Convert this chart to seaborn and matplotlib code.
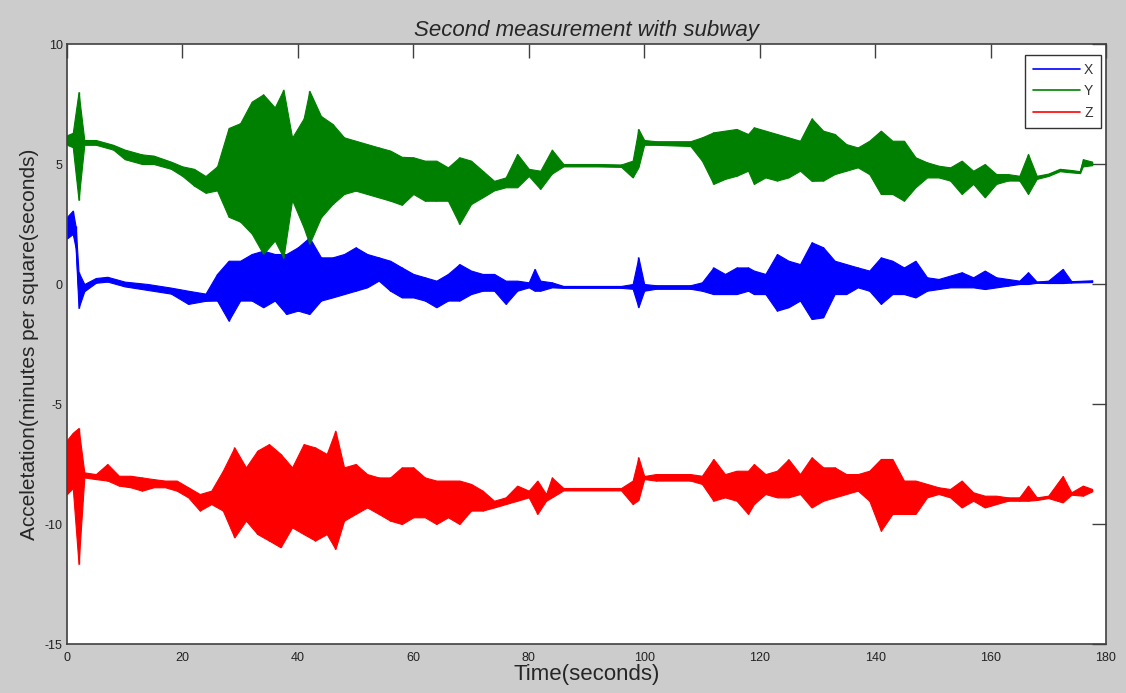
import numpy as np
import pandas as pd
import seaborn as sns
import matplotlib.pyplot as plt

# envelope of each accelerometer channel (upper / lower per time)

t_x = [0, 1, 1.5, 2, 3, 5, 7, 10, 14, 18, 21, 24, 26, 28, 30, 32, 34, 36, 38, 40,
       42, 44, 46, 48, 50, 52, 54, 56, 58, 60, 62, 64, 66, 68, 70, 72, 74, 76, 78, 80,
       81, 82, 84, 86, 96, 98, 99, 100, 102, 108, 110, 112, 114, 116, 118, 119, 121, 123, 125, 127,
       129, 131, 133, 135, 137, 139, 141, 143, 145, 147, 149, 151, 153, 155, 157, 159, 161, 163, 165, 166.5,
       168, 170, 172.5, 174, 177.6]
x_hi = [2.8, 3.06, 2.4, 0.5, 0.0, 0.25, 0.3, 0.1, 0.0, -0.15, -0.28, -0.4, 0.42, 0.97, 0.97, 1.25, 1.39, 1.25, 1.25, 1.53,
        1.94, 1.11, 1.11, 1.25, 1.53, 1.25, 1.11, 0.97, 0.69, 0.42, 0.28, 0.14, 0.42, 0.83, 0.56, 0.42, 0.42, 0.14, 0.14, 0.07,
        0.63, 0.14, 0.07, -0.08, -0.08, 0.0, 1.11, 0.0, -0.05, -0.05, 0.07, 0.69, 0.42, 0.69, 0.69, 0.56, 0.42, 1.25, 0.97, 0.83,
        1.74, 1.53, 0.97, 0.83, 0.69, 0.56, 1.11, 0.97, 0.69, 0.97, 0.28, 0.21, 0.35, 0.49, 0.28, 0.56, 0.28, 0.21, 0.14, 0.49,
        0.1, 0.14, 0.63, 0.12, 0.15]
x_lo = [1.9, 2.08, 1.5, -1.0, -0.3, 0.05, 0.1, -0.1, -0.25, -0.4, -0.83, -0.7, -0.69, -1.53, -0.69, -0.69, -0.97, -0.69, -1.25, -1.11,
        -1.25, -0.69, -0.56, -0.42, -0.28, -0.14, 0.14, -0.28, -0.56, -0.56, -0.69, -0.97, -0.69, -0.69, -0.42, -0.28, -0.28, -0.83, -0.28, -0.14,
        -0.28, -0.28, -0.14, -0.16, -0.16, -0.2, -0.97, -0.28, -0.2, -0.2, -0.28, -0.42, -0.42, -0.42, -0.28, -0.42, -0.42, -1.11, -0.97, -0.69,
        -1.46, -1.39, -0.42, -0.42, -0.14, -0.28, -0.83, -0.42, -0.42, -0.56, -0.28, -0.21, -0.14, -0.14, -0.14, -0.21, -0.14, -0.07, 0.0, 0.0,
        0.05, 0.04, 0.04, 0.06, 0.08]

t_y = [0, 1, 2, 3, 5, 8, 10, 13, 15, 18, 20, 22, 24, 26, 28, 30, 32, 34, 36, 37.5,
       39, 41, 42, 44, 46, 48, 50, 52, 54, 56, 58, 60, 62, 64, 66, 68, 70, 72, 74, 76,
       78, 80, 82, 84, 86, 92, 96, 98, 99, 100, 102, 108, 110, 112, 114, 116, 118, 119, 121, 123,
       125, 127, 129, 131, 133, 135, 137, 139, 141, 143, 145, 147, 149, 151, 153, 155, 157, 159, 161, 163,
       165, 166.5, 168, 170, 172, 174, 175.5, 176, 177.6]
y_hi = [6.2, 6.3, 8.0, 6.0, 6.0, 5.8, 5.6, 5.4, 5.35, 5.1, 4.9, 4.8, 4.5, 4.9, 6.5, 6.7, 7.6, 7.9, 7.36, 8.1,
        6.1, 6.9, 8.05, 7.0, 6.67, 6.11, 5.97, 5.83, 5.69, 5.56, 5.3, 5.28, 5.14, 5.14, 4.86, 5.28, 5.14, 4.72, 4.3, 4.44,
        5.42, 4.8, 4.72, 5.6, 5.0, 5.0, 4.98, 5.14, 6.46, 6.0, 5.95, 5.95, 6.11, 6.32, 6.39, 6.46, 6.25, 6.53, 6.39, 6.25,
        6.11, 5.97, 6.9, 6.39, 6.25, 5.83, 5.69, 5.97, 6.39, 5.97, 5.97, 5.28, 5.07, 4.93, 4.86, 5.14, 4.72, 5.0, 4.58, 4.58,
        4.51, 5.42, 4.51, 4.6, 4.8, 4.75, 4.7, 5.2, 5.1]
y_lo = [5.8, 5.7, 3.5, 5.8, 5.8, 5.6, 5.2, 5.0, 5.0, 4.8, 4.5, 4.1, 3.8, 3.9, 2.8, 2.6, 2.1, 1.25, 1.81, 1.1,
        3.5, 2.36, 1.67, 2.78, 3.33, 3.75, 3.89, 3.75, 3.61, 3.47, 3.3, 3.75, 3.47, 3.47, 3.47, 2.5, 3.33, 3.61, 3.9, 4.03,
        4.03, 4.5, 3.96, 4.6, 4.9, 4.9, 4.88, 4.44, 4.86, 5.8, 5.8, 5.75, 5.14, 4.17, 4.38, 4.51, 4.72, 4.17, 4.44, 4.31,
        4.44, 4.72, 4.3, 4.31, 4.58, 4.72, 4.86, 4.58, 3.75, 3.75, 3.47, 4.03, 4.44, 4.44, 4.31, 3.75, 4.17, 3.61, 4.17, 4.31,
        4.31, 3.75, 4.38, 4.5, 4.7, 4.65, 4.62, 4.9, 4.95]

t_z = [0, 1, 2, 3, 5, 7, 9, 11, 13, 15, 17, 19, 21, 23, 25, 27, 29, 31, 33, 35,
       37, 39, 41, 43, 45, 46.5, 48, 50, 52, 54, 56, 58, 60, 62, 64, 66, 68, 70, 72, 74,
       76, 78, 80, 81.5, 83, 84, 86, 96, 98, 99, 100, 102, 108, 110, 112, 114, 116, 118, 119, 121,
       123, 125, 127, 129, 131, 133, 135, 137, 139, 141, 143, 145, 147, 149, 151, 153, 155, 157, 159, 161,
       163, 165, 166.5, 168, 170, 172.5, 174, 176, 177.6]
z_hi = [-6.5, -6.2, -6.0, -7.85, -7.92, -7.5, -7.99, -7.99, -8.06, -8.13, -8.19, -8.19, -8.47, -8.75, -8.61, -7.78, -6.81, -7.64, -6.94, -6.67,
        -7.08, -7.64, -6.67, -6.81, -7.08, -6.11, -7.64, -7.5, -7.92, -8.06, -8.06, -7.64, -7.64, -8.06, -8.19, -8.19, -8.19, -8.33, -8.61, -9.03,
        -8.89, -8.4, -8.61, -8.19, -8.75, -8.06, -8.5, -8.5, -8.19, -7.22, -8.0, -7.92, -7.92, -7.99, -7.29, -7.92, -7.78, -7.78, -7.5, -7.92,
        -7.78, -7.3, -7.92, -7.22, -7.64, -7.64, -7.92, -7.92, -7.78, -7.29, -7.29, -8.19, -8.19, -8.33, -8.47, -8.54, -8.19, -8.68, -8.82, -8.82,
        -8.89, -8.89, -8.4, -8.89, -8.82, -8.0, -8.68, -8.4, -8.54]
z_lo = [-8.75, -8.5, -11.67, -8.06, -8.13, -8.19, -8.4, -8.47, -8.61, -8.47, -8.47, -8.61, -8.89, -9.44, -9.17, -9.44, -10.56, -9.86, -10.42, -10.69,
        -10.97, -10.14, -10.42, -10.69, -10.42, -11.04, -9.86, -9.58, -9.31, -9.58, -9.86, -10.0, -9.72, -9.72, -10.0, -9.72, -10.0, -9.44, -9.44, -9.31,
        -9.17, -9.03, -8.89, -9.58, -9.03, -8.89, -8.6, -8.6, -9.17, -9.0, -8.13, -8.19, -8.19, -8.33, -9.03, -8.89, -9.03, -9.58, -9.17, -8.75,
        -8.89, -8.89, -8.75, -9.31, -9.03, -8.89, -8.75, -8.61, -9.03, -10.28, -9.58, -9.58, -9.58, -8.89, -8.75, -8.89, -9.31, -9.03, -9.31, -9.17,
        -9.03, -9.03, -9.03, -9.0, -8.92, -9.1, -8.78, -8.82, -8.64]

channels = [
    ("X", t_x, x_hi, x_lo, "#0000ff"),
    ("Y", t_y, y_hi, y_lo, "#008000"),
    ("Z", t_z, z_hi, z_lo, "#ff0000"),
]

sns.set_theme(style="white")
plt.rcParams['font.family'] = ['Liberation Sans', 'DejaVu Sans']
plt.rcParams['axes.unicode_minus'] = False

fig = plt.figure(figsize=(11.26, 6.93), dpi=100)
fig.patch.set_facecolor("#cccccc")
ax = fig.add_axes([0.0595, 0.0707, 0.9227, 0.8658])
ax.set_facecolor("white")

for name, t, hi, lo, col in channels:
    t = np.array(t)
    hi = np.array(hi)
    lo = np.array(lo)
    df = pd.DataFrame({"t": t, "v": (hi + lo) / 2})
    sns.lineplot(data=df, x="t", y="v", ax=ax, color=col, lw=0.8, label=name)
    ax.fill_between(t, lo, hi, color=col, lw=0.8, edgecolor=col)
    # vertical strokes at each sample, like the dense raw trace
    ax.vlines(t, lo, hi, color=col, lw=1.0)

ax.set_xlim(0, 180)
ax.set_ylim(-15, 10)
ax.set_xticks(range(0, 181, 20))
ax.set_yticks(range(-15, 11, 5))
ax.tick_params(direction="in", length=10, width=1, color="#404040",
               top=True, right=True, labelsize=9, labelcolor="#222222", pad=3)
ax.tick_params(axis="x", pad=6)
for s in ax.spines.values():
    s.set_color("#404040")
    s.set_linewidth(1.2)

ax.set_title("Second measurement with subway", fontsize=16, style="italic", pad=6)
ax.set_xlabel("Time(seconds)", fontsize=16, labelpad=0)
ax.set_ylabel("Acceletation(minutes per square(seconds)", fontsize=15, labelpad=4)

leg = ax.legend(loc="upper right", bbox_to_anchor=(0.9952, 0.9816), borderaxespad=0,
                fontsize=10, frameon=True, fancybox=False, edgecolor="black",
                handlelength=3.4, labelspacing=0.55, borderpad=0.55, handletextpad=0.3)
leg.get_frame().set_linewidth(1.0)
for h in leg.get_lines():
    h.set_linewidth(1.2)
for txt in leg.get_texts():
    txt.set_color("#333333")

fig.savefig("out.png", dpi=100, facecolor=fig.get_facecolor())
